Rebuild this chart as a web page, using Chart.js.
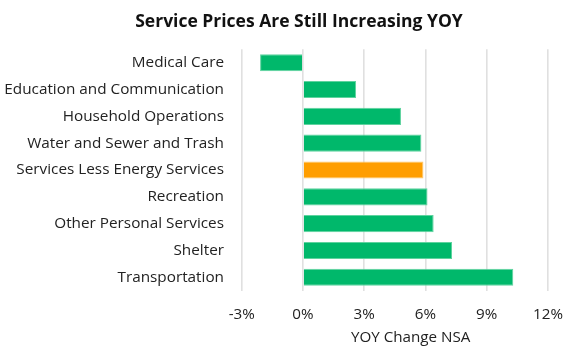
<!DOCTYPE html>
<html><head><meta charset="utf-8">
<script src="https://cdn.jsdelivr.net/npm/chart.js@4"></script>
<style>html,body{margin:0;padding:0;background:#fff}#wrap{width:581px;height:350px}</style>
</head><body><div id="wrap"><canvas id="c"></canvas></div>
<script>
const categories = ["Medical Care","Education and Communication","Household Operations","Water and Sewer and Trash","Services Less Energy Services","Recreation","Other Personal Services","Shelter","Transportation"];
const values = [-2.1, 2.6, 4.8, 5.8, 5.9, 6.1, 6.4, 7.3, 10.3];
const highlight = "Services Less Energy Services";
const xTicks = [-3, 0, 3, 6, 9, 12];
const GREEN = "#00b86b", ORANGE = "#ff9e00";
const colors = categories.map(c => c === highlight ? ORANGE : GREEN);
const borders = categories.map(c => c === highlight ? "#ffc766" : "#5fd39f");
Chart.defaults.font.family = "'Open Sans', sans-serif";
Chart.defaults.color = "#222";
const shiftTitle = {
  id: "shiftTitle",
  afterLayout(chart) { if (chart.titleBlock) { chart.titleBlock.left = 50; chart.titleBlock.right = 548; } }
};
new Chart(document.getElementById("c"), {
  type: "bar",
  data: { labels: categories, datasets: [{ data: values, backgroundColor: colors, borderColor: borders, borderWidth: 1, barPercentage: 0.8, categoryPercentage: 0.8 }] },
  options: {
    indexAxis: "y", responsive: true, maintainAspectRatio: false, animation: false,
    layout: { padding: { left: 4, right: 33, top: 0, bottom: 5 } },
    plugins: {
      legend: { display: false }, tooltip: { enabled: false },
      title: { display: true, text: "Service Prices Are Still Increasing YOY", font: { size: 17.5, weight: "bold" }, color: "#111", padding: { top: 11.8, bottom: 16.5 } }
    },
    scales: {
      x: {
        min: -3, max: 12,
        afterBuildTicks: ax => { ax.ticks = xTicks.map(v => ({ value: v })); },
        afterFit: s => { s.height = 54.3; },
        ticks: { callback: v => v + "%", font: { size: 15.2, lineHeight: 1 }, color: "#222", padding: 16.7 },
        grid: { color: "#e0e0e0", lineWidth: 1.6, drawTicks: false },
        border: { display: false },
        title: { display: true, text: "        YOY Change NSA", font: { size: 15.2, lineHeight: 1 }, color: "#222", padding: { top: 0, bottom: 0 } }
      },
      y: {
        afterFit: s => { s.width = 237.7; },
        ticks: { font: { size: 15.3 }, color: "#222", padding: 17.7 },
        grid: { display: false, drawTicks: false },
        border: { display: false }
      }
    }
  },
  plugins: [shiftTitle]
});
</script></body></html>
